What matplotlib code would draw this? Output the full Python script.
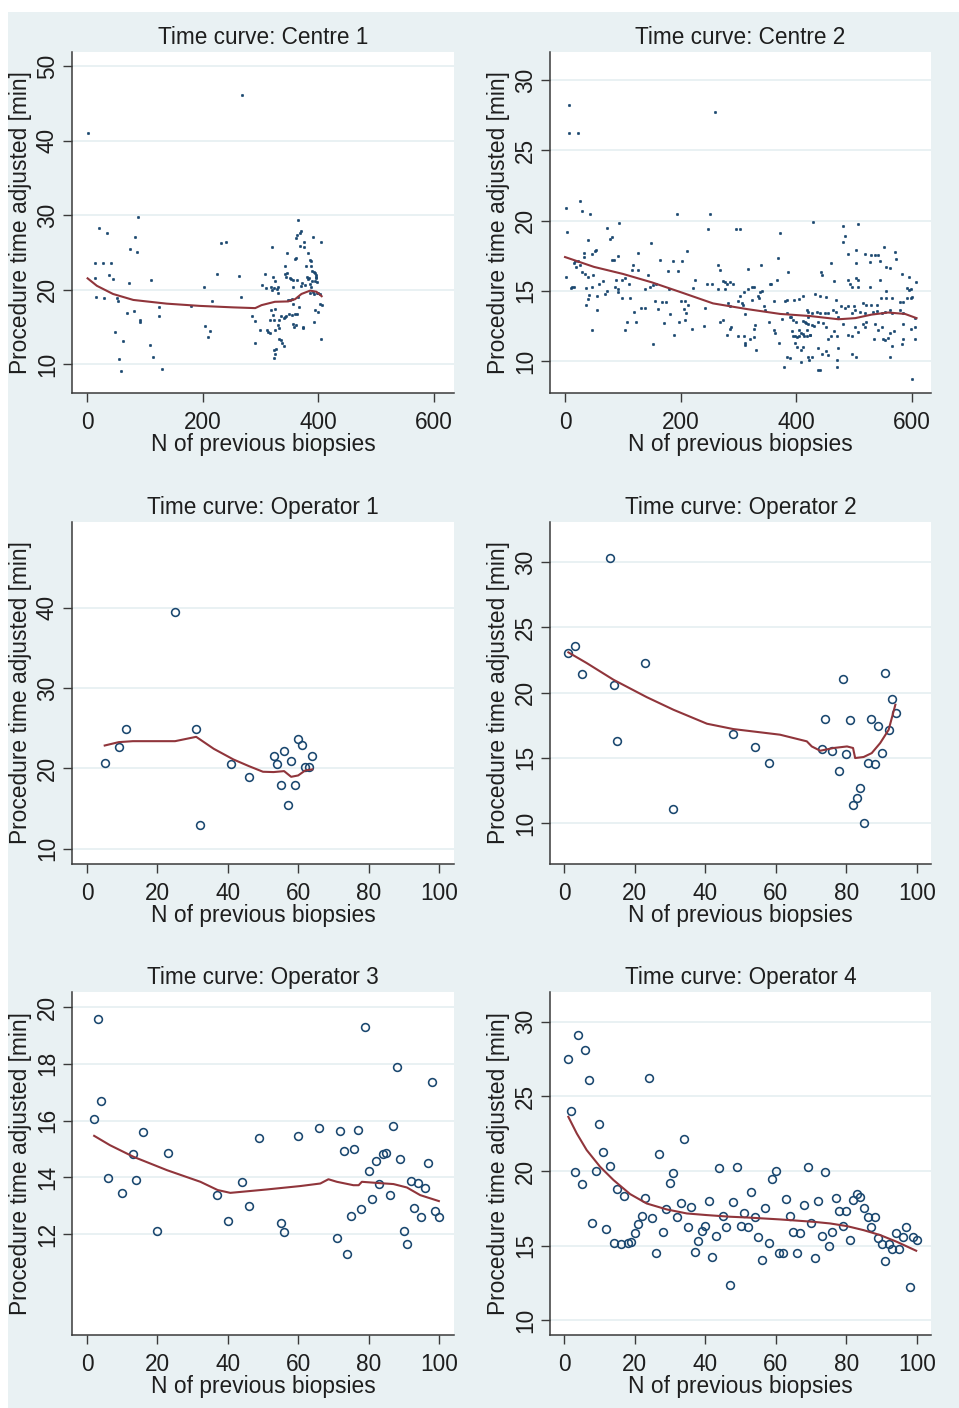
import matplotlib
matplotlib.use("Agg")
import matplotlib.pyplot as plt
from matplotlib.patches import Rectangle

plt.rcParams['font.family'] = ['Liberation Sans', 'DejaVu Sans']

# ---- data ----
centre1_x = [1, 269, 21, 34, 13, 28, 42, 38, 45, 14, 16, 30, 52, 53, 48, 55, 58, 62,
             74, 83, 89, 86, 73, 70, 81, 91, 92, 111, 109, 115, 130, 125, 124, 180,
             203, 205, 213, 210, 217, 225, 231, 240, 263, 267, 286, 290, 291, 302,
             308, 299, 311, 314, 319, 316, 320, 322, 320, 323, 325, 327, 329, 330,
             332, 333, 335, 337, 340, 341, 343, 344, 346, 342, 346, 347, 351, 354,
             349, 354, 352, 353, 357, 358, 357, 360, 364, 361, 363, 362, 363, 365,
             368, 371, 367, 365, 369, 375, 374, 372, 377, 376, 379, 380, 383, 383,
             385, 388, 386, 387, 391, 393, 396, 397, 392, 394, 397, 398, 400, 403,
             405, 404, 406, 400, 391, 360, 387, 390, 395, 343, 325, 357, 384, 389,
             310, 318, 324, 330, 356, 371, 385, 392, 398, 403, 395, 374, 361, 325,
             336, 345, 322, 324, 316, 326, 330, 332, 324]
centre1_y = [41.0, 46.1, 28.2, 27.6, 23.6, 23.5, 23.6, 22.0, 21.4, 21.5, 19.0, 18.8,
             18.8, 18.4, 14.3, 10.6, 9.1, 13.1, 25.4, 27.0, 29.8, 25.1, 20.9, 16.8,
             17.1, 15.9, 15.6, 21.3, 12.6, 10.9, 9.3, 17.7, 16.5, 17.8, 20.3, 15.1,
             14.4, 13.6, 18.4, 22.1, 26.2, 26.4, 21.8, 19.0, 16.4, 15.8, 12.8, 20.6,
             22.1, 14.5, 14.5, 14.3, 17.2, 15.9, 25.7, 21.7, 19.9, 10.8, 11.4, 12.0,
             20.1, 19.5, 15.9, 14.8, 13.2, 12.8, 12.4, 16.2, 16.3, 21.7, 22.2, 23.2,
             24.9, 18.6, 18.6, 18.7, 16.7, 16.6, 21.6, 21.4, 15.4, 15.0, 18.1, 16.7,
             16.7, 24.2, 21.3, 26.9, 27.3, 29.3, 27.6, 27.9, 17.7, 19.0, 25.8, 25.7,
             14.8, 20.9, 20.6, 26.4, 23.1, 21.7, 21.4, 24.9, 24.0, 23.1, 20.8, 20.4,
             27.1, 22.4, 21.9, 21.6, 15.7, 21.2, 21.7, 21.0, 17.0, 18.1, 26.4, 13.4,
             17.9, 19.5, 19.7, 24.1, 23.8, 22.5, 22.2, 22.1, 21.2, 21.3, 21.5, 21.1,
             20.2, 20.3, 20.2, 20.3, 20.3, 20.5, 19.5, 19.4, 19.5, 19.4, 17.2, 15.0,
             15.3, 17.4, 16.4, 16.5, 16.6, 15.9, 14.2, 14.6, 15.2, 13.3, 11.9]
centre1_fit_x = [1, 17, 45, 80, 103, 138, 195, 253, 291, 302, 325, 348, 360, 371,
                 386, 397, 406]
centre1_fit_y = [21.5, 20.5, 19.4, 18.6, 18.4, 18.1, 17.8, 17.6, 17.5, 17.9, 18.35,
                 18.4, 18.7, 19.4, 19.85, 19.7, 19.1]

centre2_x = [6, 6, 23, 26, 1, 30, 43, 193, 4, 73, 93, 77, 82, 40, 148, 53, 52, 32, 33,
             46, 92, 81, 85, 127, 17, 23, 164, 186, 202, 16, 26, 19, 118, 116, 126, 29,
             35, 49, 40, 178, 196, 144, 1, 58, 66, 89, 98, 104, 111, 12, 16, 10, 37,
             47, 139, 147, 153, 158, 86, 92, 179, 42, 40, 55, 69, 72, 91, 98, 112, 156,
             168, 174, 160, 200, 36, 55, 119, 131, 139, 182, 205, 108, 123, 171, 197,
             46, 103, 188, 153,
             260, 250, 247, 296, 303, 372, 211, 265, 268, 339, 369, 317, 385, 225, 245,
             255, 273, 276, 281, 285, 290, 222, 265, 277, 309, 317, 323, 327, 354, 357,
             367, 303, 300, 306, 282, 286, 334, 337, 340, 324, 335, 361, 380, 384, 396,
             405, 412, 207, 213, 242, 209, 207, 219, 241, 268, 273, 285, 287, 280, 299,
             310, 311, 312, 320, 328, 327, 327, 331, 307, 312, 345, 346, 353, 362, 363,
             370, 375, 384, 389, 384, 389, 379, 392, 395, 398, 401, 404, 405, 408, 411,
             413, 398, 402, 408, 412, 408, 421, 394, 391, 400, 412, 416, 419, 421, 418,
             423,
             429, 481, 507, 484, 480, 551, 504, 490, 518, 530, 536, 541, 571, 572, 527,
             545, 556, 562, 460, 503, 443, 444, 582, 595, 503, 507, 466, 490, 493, 545,
             607, 496, 507, 527, 556, 591, 595, 599, 432, 441, 451, 468, 478, 484, 490,
             500, 516, 521, 530, 539, 546, 556, 565, 579, 585, 591, 599, 601, 421, 428,
             435, 441, 449, 455, 463, 469, 472, 496, 502, 510, 519, 533, 539, 548, 553,
             562, 566, 579, 585, 605, 415, 421, 427, 431, 438, 424, 418, 447, 452, 460,
             455, 466, 470, 480, 490, 496, 502, 507, 516, 521, 519, 536, 542, 548, 535,
             550, 554, 558, 562, 569, 585, 598, 605, 585, 566, 582, 605, 438, 444, 452,
             455, 427, 422, 472, 471, 496, 504, 562, 438, 441, 471, 601]
centre2_y = [28.2, 26.25, 26.25, 21.4, 20.9, 20.7, 20.5, 20.5, 19.2, 19.5, 19.8, 18.7,
             18.8, 18.6, 18.4, 17.9, 17.8, 17.7, 17.4, 17.6, 17.5, 17.2, 17.2, 17.7,
             17.1, 17.1, 17.2, 17.1, 17.1, 17.0, 16.8, 16.7, 16.8, 16.5, 16.5, 16.3,
             16.2, 16.1, 16.0, 16.4, 16.4, 16.1, 15.95, 15.5, 15.7, 15.8, 15.8, 15.9,
             15.5, 15.3, 15.25, 15.2, 15.2, 15.3, 15.1, 15.3, 15.4, 15.5, 15.25, 15.1,
             15.1, 14.7, 14.4, 14.6, 14.8, 14.95, 14.9, 14.5, 14.5, 14.3, 14.2, 14.2,
             13.7, 14.3, 14.0, 13.6, 13.5, 13.8, 13.8, 13.35, 13.7, 12.8, 12.8, 12.7,
             12.8, 12.2, 12.2, 11.85, 11.2,
             27.75, 20.5, 19.4, 19.4, 19.4, 19.1, 17.8, 16.8, 16.5, 16.8, 17.3, 16.55,
             16.3, 15.8, 15.5, 15.5, 15.7, 15.6, 15.5, 15.6, 15.45, 15.2, 15.15, 15.15,
             14.9, 15.1, 15.25, 15.25, 15.5, 15.5, 15.8, 14.6, 14.3, 14.15, 14.15, 13.9,
             14.6, 14.9, 14.95, 14.35, 14.5, 14.3, 14.3, 14.35, 14.35, 14.4, 14.6, 14.3,
             14.0, 13.75, 13.45, 12.9, 12.3, 12.5, 12.8, 12.9, 12.25, 12.4, 11.85, 11.8,
             11.75, 11.25, 11.15, 11.6, 12.55, 12.25, 11.7, 10.8, 14.0, 13.35, 13.9,
             13.6, 12.8, 12.2, 12.0, 11.3, 13.0, 13.45, 13.15, 10.25, 10.2, 9.6, 12.1,
             11.8, 11.75, 11.7, 11.8, 12.2, 12.0, 11.9, 11.75, 11.25, 11.0, 10.8, 11.0,
             9.95, 10.3, 12.9, 13.1, 12.8, 12.85, 12.7, 13.6, 13.15, 12.2, 11.85,
             19.9, 19.6, 19.75, 18.9, 18.5, 18.1, 17.9, 17.6, 17.6, 17.55, 17.55, 17.55,
             17.75, 17.25, 17.05, 17.1, 16.7, 16.65, 16.95, 16.95, 16.35, 16.1, 16.2,
             16.0, 15.9, 15.8, 15.7, 15.75, 15.5, 15.75, 15.65, 15.3, 15.3, 15.3, 15.0,
             15.2, 15.05, 15.1, 14.75, 14.6, 14.55, 14.35, 13.9, 13.8, 13.9, 13.9, 14.1,
             14.0, 14.0, 14.0, 14.45, 14.45, 14.45, 14.2, 14.2, 14.5, 14.45, 14.55, 13.5,
             13.45, 13.5, 13.45, 13.45, 13.45, 13.65, 13.5, 13.15, 13.45, 13.6, 13.5,
             13.45, 13.5, 13.55, 13.45, 13.5, 13.6, 13.45, 13.6, 13.45, 13.05, 12.8,
             12.65, 12.55, 12.5, 12.75, 11.85, 11.75, 12.7, 12.4, 11.75, 11.55, 12.1,
             11.75, 12.6, 11.85, 11.75, 12.4, 12.05, 12.65, 12.8, 12.4, 12.65, 12.2,
             12.4, 11.6, 11.6, 11.5, 11.65, 12.0, 12.1, 12.6, 12.3, 12.4, 11.55, 11.1,
             11.2, 11.55, 10.9, 10.5, 10.7, 10.4, 10.3, 10.1, 10.9, 10.1, 10.5, 10.3,
             10.3, 9.35, 9.35, 9.55, 8.7]
centre2_fit_x = [0, 50, 100, 150, 200, 256, 314, 372, 424, 473, 502, 530, 559, 588, 608]
centre2_fit_y = [17.4, 16.7, 16.2, 15.6, 14.9, 14.1, 13.7, 13.35, 13.2, 12.97, 13.05,
                 13.3, 13.45, 13.35, 13.05]

op1_x = [5, 9, 11, 25, 31, 32, 41, 46, 53, 54, 55, 56, 57, 58, 59, 60, 61, 62, 63, 64]
op1_y = [20.7, 22.7, 24.9, 39.5, 24.9, 12.9, 20.5, 18.9, 21.5, 20.6, 18.0, 22.2, 15.4,
         20.9, 18.0, 23.7, 22.9, 20.2, 20.2, 21.5]
op1_fit_x = [5, 9, 13, 25, 31, 36, 41.6, 46, 50, 53, 56, 58, 60, 62, 64]
op1_fit_y = [22.86, 23.28, 23.4, 23.4, 23.94, 22.45, 21.12, 20.29, 19.59, 19.55, 19.67,
             18.96, 19.13, 19.75, 19.88]

op2_x = [1, 3, 5, 13, 14, 15, 23, 31, 48, 54, 58, 73, 74, 76, 78, 79, 80, 81, 82, 83,
         84, 85, 86, 87, 88, 89, 90, 91, 92, 93, 94]
op2_y = [23.0, 23.6, 21.4, 30.3, 20.6, 16.3, 22.3, 11.1, 16.8, 15.8, 14.6, 15.7, 18.0,
         15.5, 14.0, 21.0, 15.3, 17.9, 11.4, 11.9, 12.7, 10.0, 14.6, 18.0, 14.5, 17.4,
         15.4, 21.5, 17.1, 19.5, 18.4]
op2_fit_x = [1.2, 6.4, 14, 23.4, 31, 40.5, 48, 61.2, 68.8, 70.2, 72.6, 76.4, 80.2, 81.9,
             82.5, 84.9, 87.2, 89.6, 92, 93.9]
op2_fit_y = [23.08, 22.26, 20.98, 19.65, 18.68, 17.61, 17.2, 16.77, 16.26, 15.87, 15.54,
             15.75, 15.87, 15.75, 14.98, 15.06, 15.36, 16.13, 17.15, 19.07]

op3_x = [2, 3, 4, 6, 10, 13, 14, 16, 20, 23, 37, 40, 44, 46, 49, 55, 56, 60, 66, 71, 72,
         73, 74, 75, 76, 77, 78, 79, 80, 81, 82, 83, 84, 85, 86, 87, 88, 89, 90, 91, 92,
         93, 94, 95, 96, 97, 98, 99, 100]
op3_y = [16.07, 19.57, 16.70, 13.96, 13.45, 14.82, 13.9, 15.58, 12.1, 14.86, 13.38,
         12.47, 13.85, 12.99, 15.4, 12.4, 12.08, 15.47, 15.75, 11.87, 15.62, 14.91, 11.3,
         12.62, 15.01, 15.68, 12.89, 19.3, 14.23, 13.22, 14.57, 13.76, 14.82, 14.86,
         13.36, 15.8, 17.89, 14.63, 12.12, 11.66, 13.88, 12.9, 13.81, 12.61, 13.63,
         14.52, 17.36, 12.82, 12.61]
op3_fit_x = [2, 6.5, 13.2, 22.7, 32.2, 37.1, 40.7, 51.1, 60.6, 66.3, 68.6, 71, 75.7,
             77.2, 78.1, 82.4, 87.1, 90.9, 94.7, 100]
op3_fit_y = [15.46, 15.13, 14.72, 14.25, 13.84, 13.55, 13.45, 13.57, 13.69, 13.78, 13.93,
             13.84, 13.72, 13.72, 13.84, 13.8, 13.76, 13.64, 13.37, 13.16]

op4_x = list(range(1, 101))
op4_y = [27.5, 24.0, 19.9, 29.15, 19.14, 28.1, 26.07, 16.48, 20.01, 23.18, 21.24, 16.1,
         20.35, 15.18, 18.76, 15.07, 18.31, 15.18, 15.23, 15.81, 16.44, 16.97, 18.2,
         26.25, 16.82, 14.51, 21.17, 15.92, 17.42, 19.21, 19.88, 16.88, 17.82, 22.11,
         16.26, 17.55, 14.58, 15.32, 15.99, 16.3, 18.0, 14.2, 15.63, 20.17, 16.97, 16.26,
         12.35, 17.91, 20.28, 16.32, 17.15, 16.26, 18.6, 16.93, 15.54, 14.02, 17.53,
         15.18, 19.47, 20.01, 14.51, 14.51, 18.13, 16.97, 15.92, 14.51, 15.81, 17.75,
         20.28, 16.48, 14.18, 18.0, 15.63, 19.9, 14.96, 15.92, 18.18, 17.33, 16.32,
         17.33, 15.36, 18.04, 18.45, 18.27, 17.49, 16.93, 16.21, 16.93, 15.52, 15.07,
         13.98, 15.09, 14.8, 15.81, 14.8, 15.54, 16.26, 12.23, 15.59, 15.36]
op4_fit_x = [1.2, 3.6, 6.4, 10.2, 14, 18.7, 23.4, 29.1, 34.8, 40.5, 47.1, 51.8, 61.2,
             70.7, 75.4, 80.2, 84.9, 89.6, 94.3, 99.8]
op4_fit_y = [23.63, 22.51, 21.4, 20.28, 19.39, 18.45, 17.82, 17.42, 17.15, 17.04, 16.93,
             16.88, 16.75, 16.59, 16.48, 16.3, 16.03, 15.7, 15.25, 14.65]

# ---- style ----
W, H = 959, 1408
BG = '#e9f1f3'
NAVY = '#1a476f'
MAROON = '#90353b'
TEXT = '#1e1e1e'

fig = plt.figure(figsize=(W / 100, H / 100), dpi=100)
fig.patch.set_facecolor('white')
fig.patches.append(Rectangle((8 / W, 0), 1 - 8 / W, 1 - 12 / H, transform=fig.transFigure,
                             facecolor=BG, edgecolor='none', zorder=-10))


def make_axes(left_px, top_px, right_px, bottom_px):
    return fig.add_axes([left_px / W, 1 - bottom_px / H,
                         (right_px - left_px) / W, (bottom_px - top_px) / H])


def draw_panel(ax, title, xs, ys, fx, fy, xlim, ylim, xticks, yticks, hollow):
    if hollow:
        ax.plot(xs, ys, 'o', ms=5.6, mfc='none', mec=NAVY, mew=1.15, zorder=3)
    else:
        ax.plot(xs, ys, 'o', ms=1.9, mfc=NAVY, mec=NAVY, mew=0.3, zorder=3)
    ax.plot(fx, fy, color=MAROON, lw=1.5, zorder=4)

    ax.set_xlim(*xlim)
    ax.set_ylim(*ylim)
    ax.set_xticks(xticks)
    ax.set_yticks(yticks)
    ax.set_facecolor('white')
    ax.grid(axis='y', color=BG, lw=1.4, zorder=0)
    ax.set_axisbelow(True)
    for side in ['top', 'right']:
        ax.spines[side].set_visible(False)
    for side in ['left', 'bottom']:
        ax.spines[side].set_color('#3a3a3a')
        ax.spines[side].set_linewidth(1.1)
    ax.tick_params(axis='both', direction='out', length=6.5, width=1.0, color='#3a3a3a',
                   labelsize=16.3, labelcolor=TEXT)
    ax.tick_params(axis='x', pad=6.5)
    ax.tick_params(axis='y', pad=3)
    for lab in ax.get_yticklabels():
        lab.set_rotation(90)
        lab.set_va('center')
    ax.set_title(title, fontsize=16.3, color=TEXT, pad=6)
    ax.set_xlabel('N of previous biopsies', fontsize=16.4, color=TEXT, labelpad=-1)
    ax.set_ylabel('Procedure time adjusted [min]', fontsize=16.4, color=TEXT, labelpad=3)


cols = [(72, 454), (550, 931)]
rows = [(52, 393), (522, 864), (992, 1335)]
ops_ticks = [0, 20, 40, 60, 80, 100]

ax = make_axes(cols[0][0], rows[0][0], cols[0][1], rows[0][1])
draw_panel(ax, 'Time curve: Centre 1', centre1_x, centre1_y, centre1_fit_x, centre1_fit_y,
           (-26, 635), (6.1, 51.9), [0, 200, 400, 600], [10, 20, 30, 40, 50], False)

ax = make_axes(cols[1][0], rows[0][0], cols[1][1], rows[0][1])
draw_panel(ax, 'Time curve: Centre 2', centre2_x, centre2_y, centre2_fit_x, centre2_fit_y,
           (-26, 633), (7.72, 32.0), [0, 200, 400, 600], [10, 15, 20, 25, 30], False)

ax = make_axes(cols[0][0], rows[1][0], cols[0][1], rows[1][1])
draw_panel(ax, 'Time curve: Operator 1', op1_x, op1_y, op1_fit_x, op1_fit_y,
           (-4.3, 104.3), (8.1, 50.7), ops_ticks, [10, 20, 30, 40], True)

ax = make_axes(cols[1][0], rows[1][0], cols[1][1], rows[1][1])
draw_panel(ax, 'Time curve: Operator 2', op2_x, op2_y, op2_fit_x, op2_fit_y,
           (-4.0, 104.0), (6.86, 33.07), ops_ticks, [10, 15, 20, 25, 30], True)

ax = make_axes(cols[0][0], rows[2][0], cols[0][1], rows[2][1])
draw_panel(ax, 'Time curve: Operator 3', op3_x, op3_y, op3_fit_x, op3_fit_y,
           (-4.3, 104.3), (8.44, 20.53), ops_ticks, [12, 14, 16, 18, 20], True)

ax = make_axes(cols[1][0], rows[2][0], cols[1][1], rows[2][1])
draw_panel(ax, 'Time curve: Operator 4', op4_x, op4_y, op4_fit_x, op4_fit_y,
           (-4.0, 104.0), (9.0, 32.0), ops_ticks, [10, 15, 20, 25, 30], True)

fig.savefig('out.png', dpi=100, facecolor=fig.get_facecolor())
